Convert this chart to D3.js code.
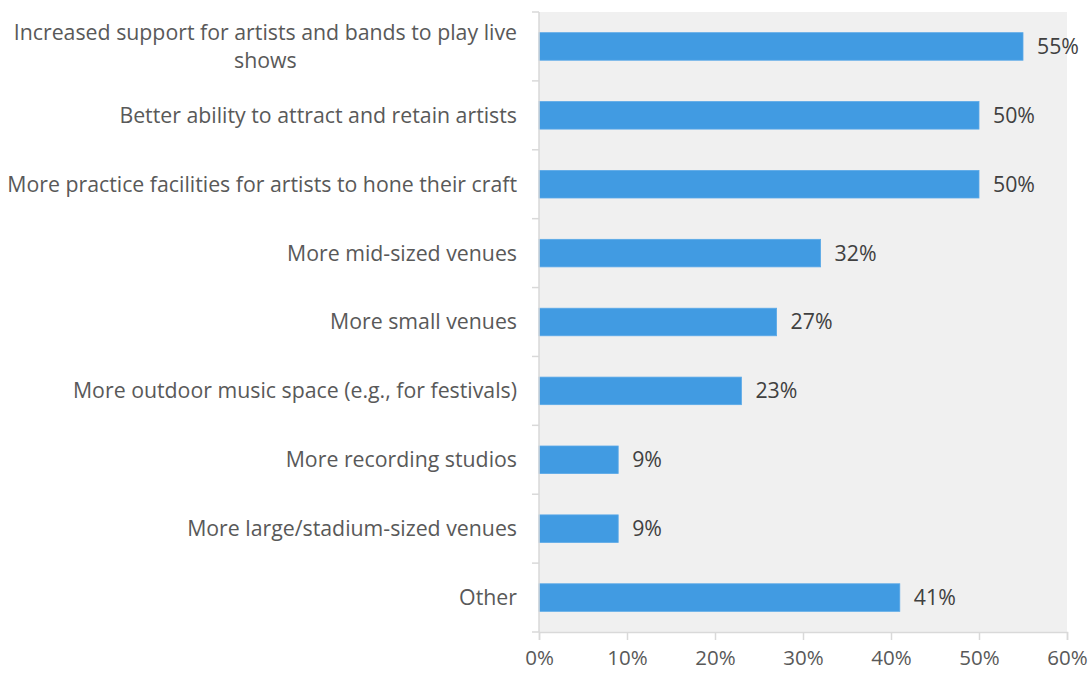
<!DOCTYPE html>
<html>
<head>
<meta charset="utf-8">
<script src="https://cdn.jsdelivr.net/npm/d3@7"></script>
<style>
  html, body { margin: 0; padding: 0; background: #ffffff; }
  svg { display: block; }
  text { font-family: "Open Sans", "Noto Sans", sans-serif; }
</style>
</head>
<body>
<svg id="chart" width="1089" height="673"></svg>
<script>
// Survey responses: what would most improve the local music scene
const categories = [
  ["Increased support for artists and bands to play live", "shows"],
  ["Better ability to attract and retain artists"],
  ["More practice facilities for artists to hone their craft"],
  ["More mid-sized venues"],
  ["More small venues"],
  ["More outdoor music space (e.g., for festivals)"],
  ["More recording studios"],
  ["More large/stadium-sized venues"],
  ["Other"]
];
const values = [55, 50, 50, 32, 27, 23, 9, 9, 41];
const xTicks = [0, 10, 20, 30, 40, 50, 60];

const FONT = 21.3;
const svg = d3.select("#chart");
const margin = { left: 539, right: 22, top: 12, bottom: 41 };
const W = 1089, H = 673;
const plotW = W - margin.left - margin.right;
const plotH = H - margin.top - margin.bottom;

const keys = categories.map((c, i) => i);
const x = d3.scaleLinear().domain([0, 60]).range([0, plotW]);
const y = d3.scaleBand().domain(keys).range([0, plotH]).paddingInner(0.6).paddingOuter(0.3);

const g = svg.append("g").attr("transform", `translate(${margin.left},${margin.top})`);

// plot background
g.append("rect")
  .attr("x", 0).attr("y", 0)
  .attr("width", plotW).attr("height", plotH)
  .attr("fill", "#f0f0f0");

// bars
g.selectAll("rect.bar")
  .data(values)
  .join("rect")
  .attr("class", "bar")
  .attr("x", x(0))
  .attr("y", (d, i) => y(i))
  .attr("width", d => x(d))
  .attr("height", y.bandwidth())
  .attr("fill", "#419be2")
  .attr("stroke", "#5aa9e8")
  .attr("stroke-width", 0.8);

// value labels
g.selectAll("text.val")
  .data(values)
  .join("text")
  .attr("class", "val")
  .attr("x", d => x(d) + 14)
  .attr("y", (d, i) => y(i) + y.bandwidth() / 2)
  .attr("dy", "0.35em")
  .attr("font-size", FONT)
  .attr("fill", "#404040")
  .text(d => d + "%");

// category axis: ticks at band boundaries
const step = plotH / categories.length;
const yAxisG = g.append("g");
yAxisG.append("line")
  .attr("x1", 0).attr("x2", 0).attr("y1", 0).attr("y2", plotH)
  .attr("stroke", "#d9d9d9").attr("stroke-width", 1.5);
yAxisG.selectAll("line.tk")
  .data(d3.range(categories.length + 1))
  .join("line")
  .attr("class", "tk")
  .attr("x1", -7).attr("x2", 0)
  .attr("y1", d => d * step).attr("y2", d => d * step)
  .attr("stroke", "#d9d9d9").attr("stroke-width", 1.5);

// category labels (wrapped lines centered on the first line)
categories.forEach((lines, i) => {
  const cy = y(i) + y.bandwidth() / 2;
  const lh = 28;
  const top = cy - (lines.length - 1) * lh / 2;
  const first = g.append("text")
    .attr("x", -22)
    .attr("y", top)
    .attr("dy", "0.35em")
    .attr("text-anchor", "end")
    .attr("font-size", FONT)
    .attr("fill", "#595959")
    .text(lines[0]);
  const w = first.node().getComputedTextLength();
  lines.slice(1).forEach((ln, k) => {
    g.append("text")
      .attr("x", -22 - w / 2)
      .attr("y", top + (k + 1) * lh)
      .attr("dy", "0.35em")
      .attr("text-anchor", "middle")
      .attr("font-size", FONT)
      .attr("fill", "#595959")
      .text(ln);
  });
});

// value axis
const xAxis = d3.axisBottom(x).tickValues(xTicks).tickFormat(d => d + "%").tickSize(8).tickPadding(10);
const xg = g.append("g").attr("transform", `translate(0,${plotH})`).call(xAxis);
xg.select(".domain").attr("stroke", "#d9d9d9").attr("stroke-width", 1.5);
xg.selectAll(".tick line").attr("stroke", "#d9d9d9").attr("stroke-width", 1.5);
xg.selectAll(".tick text")
  .attr("font-size", 20.5)
  .attr("font-family", "'Open Sans', 'Noto Sans', sans-serif")
  .attr("fill", "#595959");
</script>
</body>
</html>
